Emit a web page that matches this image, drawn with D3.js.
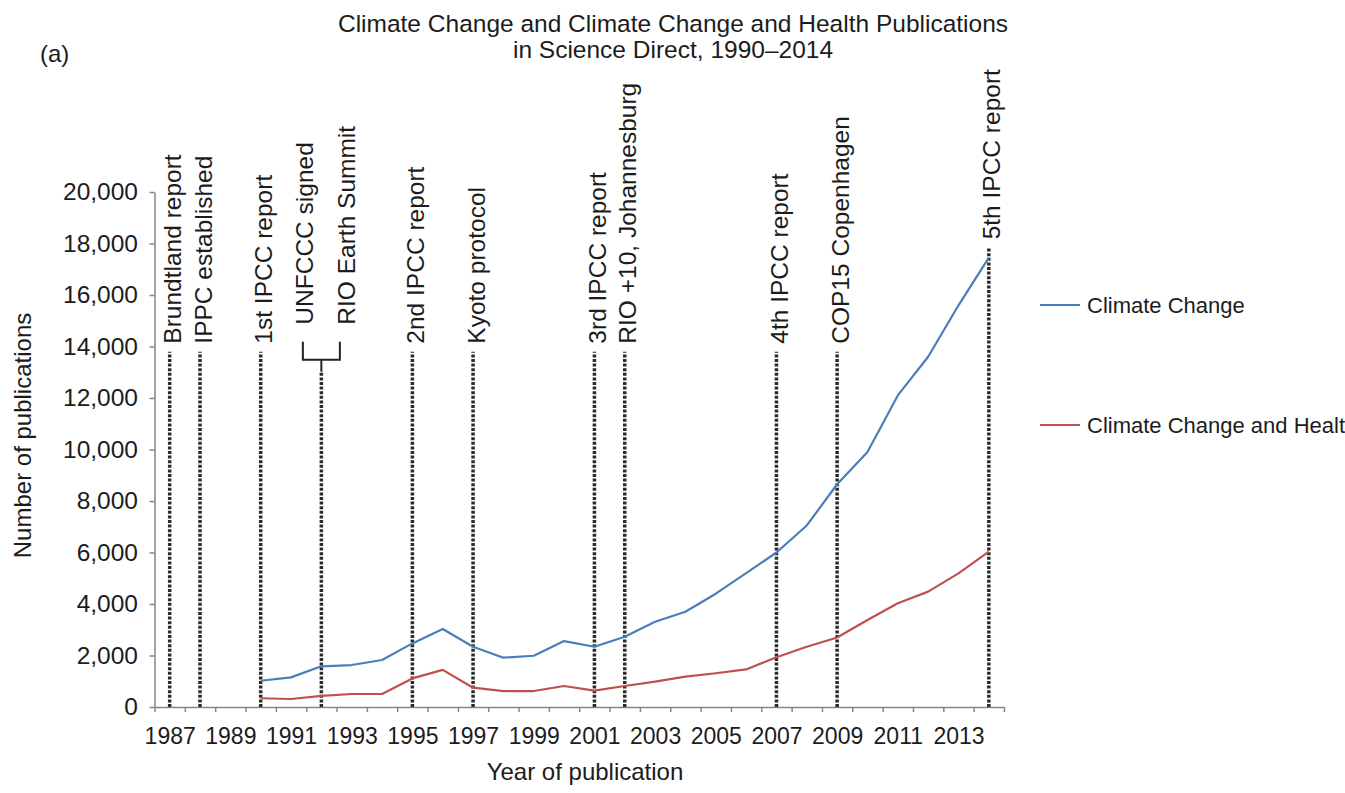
<!DOCTYPE html>
<html>
<head>
<meta charset="utf-8">
<script src="https://cdn.jsdelivr.net/npm/d3@7"></script>
<style>
  html, body { margin: 0; padding: 0; background: #fff; overflow: hidden; }
  svg { display: block; font-family: "Liberation Sans", Arial, Helvetica, sans-serif; }
</style>
</head>
<body>
<svg id="chart" width="1345" height="793"></svg>
<script>
// Publication counts per year (Science Direct searches)
const years = [1990, 1991, 1992, 1993, 1994, 1995, 1996, 1997, 1998, 1999, 2000, 2001, 2002,
               2003, 2004, 2005, 2006, 2007, 2008, 2009, 2010, 2011, 2012, 2013, 2014];
const climateChange = [1020, 1150, 1580, 1630, 1825, 2470, 3030, 2340, 1915, 1990, 2560, 2340, 2730,
                       3310, 3700, 4400, 5200, 6000, 7050, 8650, 9900, 12100, 13600, 15600, 17450];
const climateHealth = [340, 310, 430, 505, 505, 1110, 1440, 750, 620, 620, 815, 635, 815,
                       985, 1180, 1310, 1460, 1930, 2340, 2700, 3380, 4030, 4480, 5190, 6030];
const seriesNames = ["Climate Change", "Climate Change and Health"];

// Category axis (one slot per year) and labelled years
const axisYears = [1987, 1988, 1989, 1990, 1991, 1992, 1993, 1994, 1995, 1996, 1997, 1998, 1999, 2000,
                   2001, 2002, 2003, 2004, 2005, 2006, 2007, 2008, 2009, 2010, 2011, 2012, 2013, 2014];
const xTickLabels = [1987, 1989, 1991, 1993, 1995, 1997, 1999, 2001, 2003, 2005, 2007, 2009, 2011, 2013];
const yTicks = [0, 2000, 4000, 6000, 8000, 10000, 12000, 14000, 16000, 18000, 20000];

// Milestones in climate policy
const eventYears = [1987, 1988, 1990, 1992, 1992, 1995, 1997, 2001, 2002, 2007, 2009, 2014];
const eventLabels = ["Brundtland report", "IPPC established", "1st IPCC report", "UNFCCC signed",
                     "RIO Earth Summit", "2nd IPCC report", "Kyoto protocol", "3rd IPCC report",
                     "RIO +10, Johannesburg", "4th IPCC report", "COP15 Copenhagen", "5th IPCC report"];
const eventLineTop = 13800;   // default height of the milestone markers, in publications

const titleLines = ["Climate Change and Climate Change and Health Publications",
                    "in Science Direct, 1990\u20132014"];

// ---- layout ----
const svg = d3.select("#chart");
const plot = { left: 154.5, right: 1004, top: 192, bottom: 707 };
const colors = ["#4a7ebb", "#c0504d"];
const textColor = "#1c1c1c";
const axisColor = "#868686";

const x = d3.scaleLinear()
  .domain([axisYears[0] - 0.5, axisYears[axisYears.length - 1] + 0.5])
  .range([plot.left, plot.right]);
const y = d3.scaleLinear().domain([0, 20000]).range([plot.bottom, plot.top]);

// ---- title and panel tag ----
svg.append("text").attr("x", 40).attr("y", 62)
  .attr("font-size", 24).attr("fill", textColor).text("(a)");
svg.append("g").selectAll("text").data(titleLines).join("text")
  .attr("x", 673).attr("y", (d, i) => 32 + i * 26)
  .attr("text-anchor", "middle").attr("font-size", 24.5).attr("fill", textColor)
  .text(d => d);

// ---- y axis ----
const yAxis = svg.append("g").attr("transform", `translate(${plot.left},0)`)
  .call(d3.axisLeft(y).tickValues(yTicks).tickFormat(d3.format(",")).tickSize(5).tickSizeOuter(0).tickPadding(11.5));
yAxis.select(".domain").attr("stroke", axisColor).attr("stroke-width", 1.5);
yAxis.selectAll(".tick line").attr("stroke", axisColor).attr("stroke-width", 1.5);
yAxis.selectAll(".tick text").attr("font-size", 24.5).attr("fill", textColor)
  .attr("font-family", "Liberation Sans, Arial, sans-serif");

svg.append("text")
  .attr("transform", `translate(23,${(plot.top + plot.bottom) / 2 - 14}) rotate(-90)`)
  .attr("text-anchor", "middle").attr("dy", "0.35em")
  .attr("font-size", 24).attr("fill", textColor).text("Number of publications");

// ---- x axis: tick marks between categories, labels on every other year ----
const boundaries = axisYears.map(d => d - 0.5).concat([axisYears[axisYears.length - 1] + 0.5]);
const xAxisTicks = svg.append("g").attr("transform", `translate(0,${plot.bottom})`)
  .call(d3.axisBottom(x).tickValues(boundaries).tickFormat("").tickSize(5).tickSizeOuter(0));
xAxisTicks.select(".domain").attr("stroke", axisColor).attr("stroke-width", 1.5);
xAxisTicks.selectAll(".tick line").attr("stroke", axisColor).attr("stroke-width", 1.5);

const xAxisLabels = svg.append("g").attr("transform", `translate(0,${plot.bottom})`)
  .call(d3.axisBottom(x).tickValues(xTickLabels).tickFormat(d3.format("d")).tickSize(0).tickPadding(21));
xAxisLabels.select(".domain").remove();
xAxisLabels.selectAll(".tick text").attr("font-size", 23).attr("fill", textColor)
  .attr("font-family", "Liberation Sans, Arial, sans-serif");

svg.append("text").attr("x", 585).attr("y", 780)
  .attr("text-anchor", "middle").attr("font-size", 24).attr("fill", textColor)
  .text("Year of publication");

// ---- milestone markers ----
const events = eventYears.map((yr, i) => ({ year: yr, label: eventLabels[i] }));
const grouped = d3.groups(events, d => d.year);
const markers = svg.append("g");

grouped.forEach(([yr, evs]) => {
  const cx = x(yr);
  const idx = years.indexOf(yr);
  const seriesMax = idx >= 0 ? Math.max(climateChange[idx], climateHealth[idx]) : 0;
  const topVal = Math.max(eventLineTop, seriesMax + 400);
  const yTop = y(topVal);

  if (evs.length === 1) {
    markers.append("line")
      .attr("x1", cx).attr("x2", cx).attr("y1", plot.bottom).attr("y2", yTop)
      .attr("stroke", "#2a2a2a").attr("stroke-width", 3.5).attr("stroke-dasharray", "3 1.6");
    markers.append("text")
      .attr("transform", `translate(${cx + 3},${yTop - 8}) rotate(-90)`)
      .attr("dy", "0.35em").attr("font-size", 24.5).attr("fill", textColor)
      .text(evs[0].label);
  } else {
    // two milestones in the same year share one marker with a bracket
    const stemTop = yTop + 20, barY = yTop + 8, armTop = yTop - 10, half = 18.5;
    markers.append("line")
      .attr("x1", cx).attr("x2", cx).attr("y1", plot.bottom).attr("y2", stemTop)
      .attr("stroke", "#2a2a2a").attr("stroke-width", 3.5).attr("stroke-dasharray", "3 1.6");
    markers.append("path")
      .attr("d", `M${cx},${stemTop}V${barY}M${cx - half},${armTop}V${barY}H${cx + half}V${armTop}`)
      .attr("fill", "none").attr("stroke", "#222").attr("stroke-width", 2);
    const offsets = [-17, 25];
    evs.forEach((ev, j) => {
      markers.append("text")
        .attr("transform", `translate(${cx + offsets[j]},${armTop - 17}) rotate(-90)`)
        .attr("dy", "0.35em").attr("font-size", 24.5).attr("fill", textColor)
        .text(ev.label);
    });
  }
});

// ---- series lines ----
const line = d3.line().x(d => x(d[0])).y(d => y(d[1]));
[climateChange, climateHealth].forEach((vals, i) => {
  svg.append("path")
    .datum(years.map((yr, k) => [yr, vals[k]]))
    .attr("d", line).attr("fill", "none")
    .attr("stroke", colors[i]).attr("stroke-width", 2.2).attr("stroke-linejoin", "round");
});

// ---- legend ----
const legend = svg.append("g").selectAll("g").data(seriesNames).join("g")
  .attr("transform", (d, i) => `translate(1040,${305 + i * 120})`);
legend.append("line").attr("x1", 0).attr("x2", 40)
  .attr("stroke", (d, i) => colors[i]).attr("stroke-width", 2.2);
legend.append("text").attr("x", 47).attr("dy", "0.35em")
  .attr("font-size", 22).attr("fill", textColor).text(d => d);
</script>
</body>
</html>
